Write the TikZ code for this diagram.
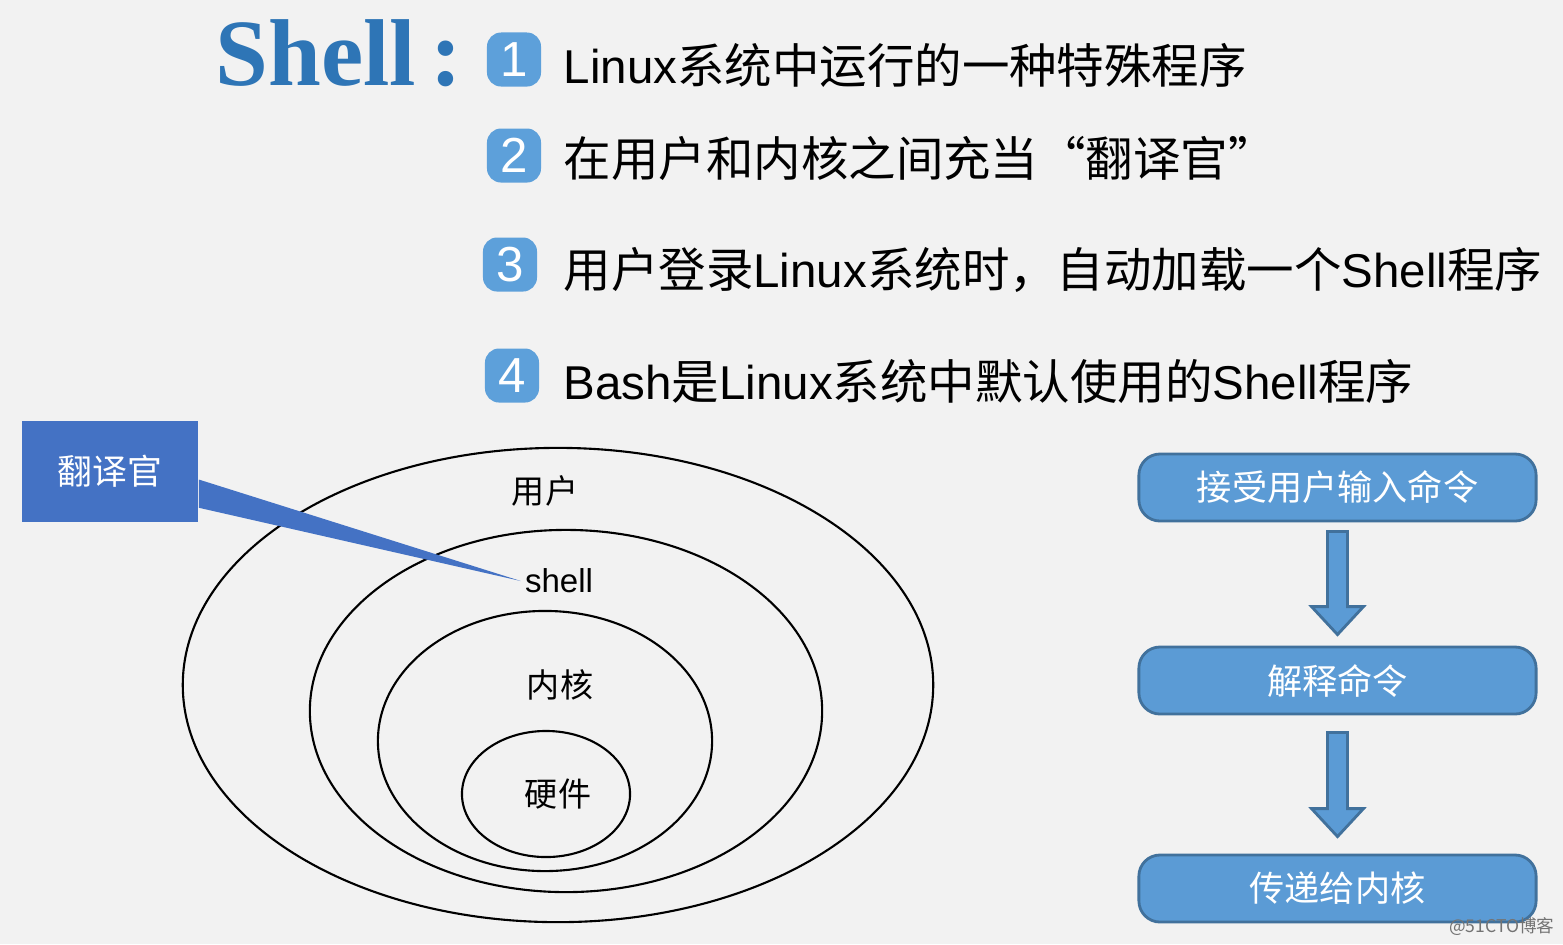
\documentclass[tikz,border=0pt]{standalone}
\usepackage{fontspec}
\setmainfont{Noto Sans CJK SC}
\newfontfamily\titlefont{Liberation Serif}
\newfontfamily\numfont{Liberation Sans}
\newcommand{\lat}[1]{{\numfont #1}}
\usetikzlibrary{positioning, calc}

\definecolor{bgray}{RGB}{242,242,242}
\definecolor{titleblue}{RGB}{46,117,182}
\definecolor{badgeblue}{RGB}{93,160,218}
\definecolor{calloutblue}{RGB}{68,114,196}
\definecolor{boxblue}{RGB}{91,155,213}
\definecolor{boxedge}{RGB}{65,113,156}

\begin{document}
\begin{tikzpicture}[x=0.01cm, y=-0.01cm,
    badge/.style={fill=badgeblue, rounded corners=4pt, minimum size=0.54cm, inner sep=0pt, text=white, font=\numfont\fontsize{14}{14}\selectfont},
    item/.style={anchor=west, inner sep=0pt, font=\fontsize{13.5}{15}\selectfont},
    layer/.style={draw, line width=0.6pt},
    lab/.style={inner sep=1pt, font=\fontsize{9.4}{11}\selectfont},
    stepbox/.style={draw=boxedge, fill=boxblue, line width=0.8pt, rounded corners=6pt, minimum width=3.97cm, minimum height=0.67cm, text=white, font=\fontsize{10}{12}\selectfont},
    blockarrow/.style={draw=boxedge, fill=boxblue, line width=0.8pt}]
    \fill [bgray] (0,0) rectangle (1563,944);
    \useasboundingbox (0,0) rectangle (1563,944);

    % title and the four points
    \node (Title) [anchor=base west, inner sep=0pt, text=titleblue, font=\titlefont\bfseries\fontsize{27}{27}\selectfont] at (215,85) {Shell\kern4pt:};
    \node (N1) [badge] at (514,59.5) {1};
    \node (N2) [badge] at (514,155.5) {2};
    \node (N3) [badge] at (510,264.5) {3};
    \node (N4) [badge] at (512,375.5) {4};
    \node (T1) [item] at (563,65) {\lat{Linux}系统中运行的一种特殊程序};
    \node (T2) [item] at (563,158) {在用户和内核之间充当“翻译官”};
    \node (T3) [item] at (563,270) {用户登录\lat{Linux}系统时，自动加载一个\lat{Shell}程序};
    \node (T4) [item] at (563,381) {\lat{Bash}是\lat{Linux}系统中默认使用的\lat{Shell}程序};

    % layers
    \draw [layer] (558,685) ellipse [x radius=3.75cm, y radius=2.37cm];
    \draw [layer] (566,711) ellipse [x radius=2.56cm, y radius=1.81cm];
    \draw [layer] (545,741) ellipse [x radius=1.67cm, y radius=1.30cm];
    \draw [layer] (546,794) ellipse [x radius=0.84cm, y radius=0.63cm];
    \node (User) [lab] at (545,491) {用户};
    \node (Shell) [lab] at (559,581) {\lat{shell}};
    \node (Kernel) [lab] at (560,685) {内核};
    \node (Hw) [lab] at (558,794) {硬件};

    % callout
    \node (Trans) [fill=calloutblue, minimum width=1.76cm, minimum height=1.01cm, text=white, font=\fontsize{9.9}{12}\selectfont] at (110,471.5) {翻译官};
    \fill [calloutblue] ($(Trans.east)+(0,8)$) -- ($(Trans.south east)+(0,-15)$) -- (Shell.west) -- cycle;

    % what the shell does
    \node (Accept) [stepbox] at (1337.5,487.5) {接受用户输入命令};
    \node (Parse) [stepbox] at (1337.5,680.5) {解释命令};
    \node (Pass) [stepbox] at (1337.5,888.5) {传递给内核};
    \draw [blockarrow] ($(Accept.south)+(-10,9)$) -- ($(Accept.south)+(10,9)$) -- ($(Parse.north)+(10,-39)$) -- ($(Parse.north)+(26,-39)$) -- ($(Parse.north)+(0,-11)$) -- ($(Parse.north)+(-26,-39)$) -- ($(Parse.north)+(-10,-39)$) -- cycle;
    \draw [blockarrow] ($(Parse.south)+(-10,17)$) -- ($(Parse.south)+(10,17)$) -- ($(Pass.north)+(10,-45)$) -- ($(Pass.north)+(26,-45)$) -- ($(Pass.north)+(0,-17)$) -- ($(Pass.north)+(-26,-45)$) -- ($(Pass.north)+(-10,-45)$) -- cycle;

    \node (Mark) [anchor=east, inner sep=0pt, text=black!55, font=\fontsize{5}{5}\selectfont] at (1555,927) {@51CTO博客};
\end{tikzpicture}
\end{document}
